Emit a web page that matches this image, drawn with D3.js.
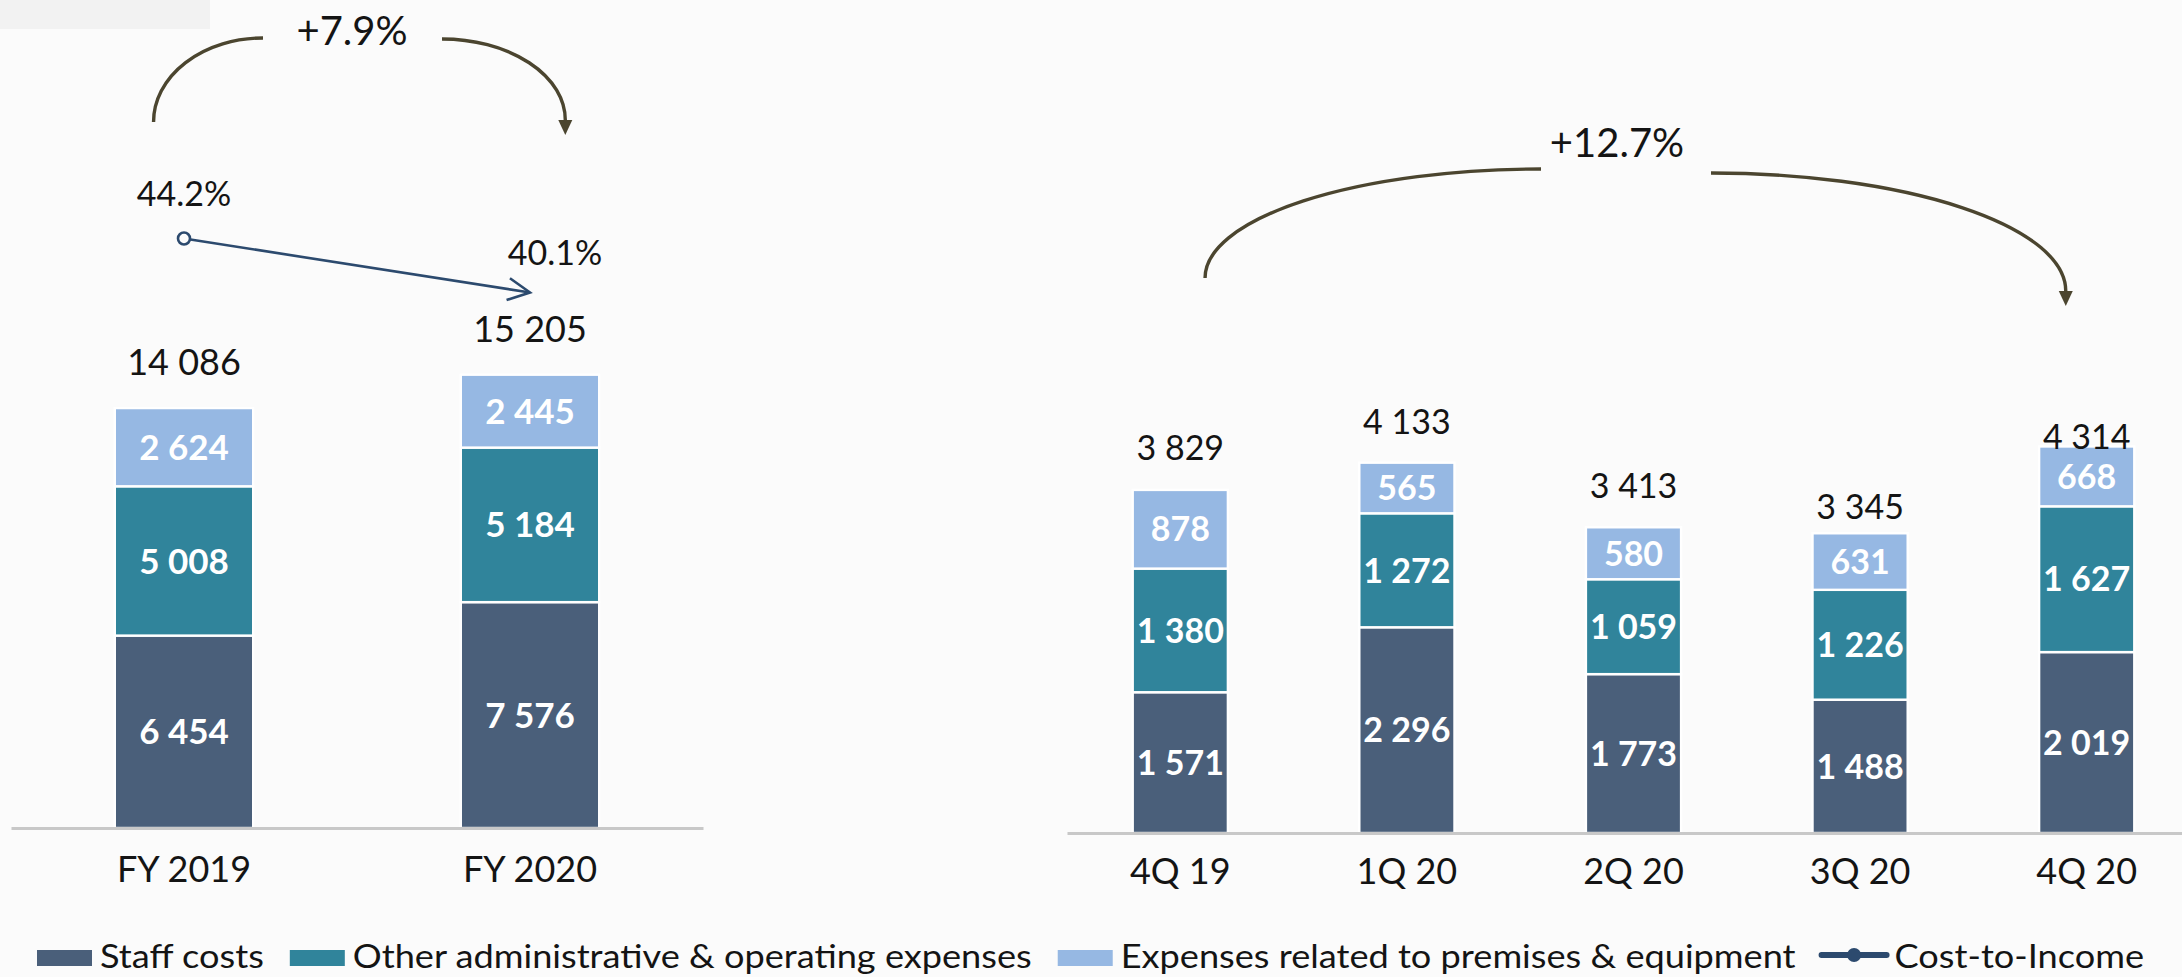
<!DOCTYPE html>
<html>
<head>
<meta charset="utf-8">
<script src="https://cdn.jsdelivr.net/npm/d3@7/dist/d3.min.js"></script>
<style>
  html, body { margin: 0; padding: 0; background: #fbfbfb; }
  svg { display: block; font-family: Lato, "Open Sans", sans-serif; }
</style>
</head>
<body>
<svg id="chart" width="2182" height="977"></svg>
<script>
// ---------------- DATA ----------------
const seriesNames = ["Staff costs", "Other administrative & operating expenses", "Expenses related to premises & equipment"];
const lineName = "Cost-to-Income";

const yearCats = ["FY 2019", "FY 2020"];
const yearStaff = [6454, 7576];
const yearOther = [5008, 5184];
const yearPremises = [2624, 2445];
const yearTotals = [14086, 15205];
const costToIncome = [44.2, 40.1];
const yearGrowth = "+7.9%";

const quarterCats = ["4Q 19", "1Q 20", "2Q 20", "3Q 20", "4Q 20"];
const quarterStaff = [1571, 2296, 1773, 1488, 2019];
const quarterOther = [1380, 1272, 1059, 1226, 1627];
const quarterPremises = [878, 565, 580, 631, 668];
const quarterTotals = [3829, 4133, 3413, 3345, 4314];
const quarterGrowth = "+12.7%";

// ---------------- STYLE ----------------
const colors = ["#4a5f7a", "#30849b", "#96b8e3"];
const lineColor = "#2c4a6e";
const arcColor = "#4b452f";
const axisColor = "#c8c8c8";
const textColor = "#141414";
const keys = ["staff", "other", "premises"];

const locale = d3.formatLocale({ decimal: ".", thousands: " ", grouping: [3], currency: ["", ""] });
const fmt = locale.format(",d");
const pct = v => v.toFixed(1) + "%";

const svg = d3.select("#chart");
svg.append("rect").attr("x", 0).attr("y", 0).attr("width", 2182).attr("height", 977).attr("fill", "#fbfbfb");
svg.append("rect").attr("x", 0).attr("y", 0).attr("width", 210).attr("height", 29).attr("fill", "#f2f2f2");

const defs = svg.append("defs");
defs.append("marker").attr("id", "arcHead").attr("markerUnits", "userSpaceOnUse")
  .attr("viewBox", "0 -8 16 16").attr("refX", 0).attr("refY", 0)
  .attr("markerWidth", 16).attr("markerHeight", 16).attr("orient", "auto")
  .append("path").attr("d", "M0,-7L15,0L0,7Z").attr("fill", arcColor);
defs.append("marker").attr("id", "lineHead").attr("markerUnits", "userSpaceOnUse")
  .attr("viewBox", "-26 -14 30 28").attr("refX", 0).attr("refY", 0)
  .attr("markerWidth", 30).attr("markerHeight", 28).attr("orient", "auto")
  .append("path").attr("d", "M-22,-11L0,0L-22,11").attr("fill", "none")
  .attr("stroke", lineColor).attr("stroke-width", 2.6);

// generic stacked panel
function panel(cfg) {
  const table = cfg.cats.map((c, i) => ({ cat: c, staff: cfg.staff[i], other: cfg.other[i], premises: cfg.premises[i] }));
  const stacked = d3.stack().keys(keys)(table);
  const x = d3.scaleBand().domain(cfg.cats).range(cfg.xRange).paddingInner(cfg.pad).paddingOuter(cfg.pad / 2);
  const y = d3.scaleLinear().domain(cfg.yDomain).range(cfg.yRange);
  const g = svg.append("g");

  g.selectAll("g.layer").data(stacked).join("g").attr("class", "layer")
    .attr("fill", (d, i) => colors[i])
    .selectAll("rect").data(d => d).join("rect")
    .attr("x", d => x(d.data.cat))
    .attr("width", x.bandwidth())
    .attr("y", d => y(d[1]))
    .attr("height", d => y(d[0]) - y(d[1]))
    .attr("stroke", "#ffffff").attr("stroke-width", 2.4);

  // segment labels
  g.selectAll("g.vlayer").data(stacked).join("g").attr("class", "vlayer")
    .selectAll("text").data(d => d).join("text")
    .attr("x", d => x(d.data.cat) + x.bandwidth() / 2)
    .attr("y", d => (y(d[0]) + y(d[1])) / 2)
    .attr("dy", "0.36em")
    .attr("text-anchor", "middle")
    .attr("fill", "#ffffff").attr("font-weight", 700).attr("font-size", cfg.valueFont)
    .text(d => fmt(d[1] - d[0]));

  // totals
  g.selectAll("text.total").data(cfg.cats).join("text").attr("class", "total")
    .attr("x", c => x(c) + x.bandwidth() / 2)
    .attr("y", (c, i) => y(d3.sum(keys, k => table[i][k])) - cfg.totalOffset[i])
    .attr("dy", "0.36em").attr("text-anchor", "middle")
    .attr("fill", textColor).attr("font-size", cfg.totalFont)
    .text((c, i) => fmt(cfg.totals[i]));

  // axis
  const ax = g.append("g").attr("transform", `translate(0,${cfg.yRange[0]})`)
    .call(d3.axisBottom(x).tickSize(0).tickSizeOuter(0).tickPadding(cfg.tickPad));
  ax.select(".domain").attr("stroke", axisColor).attr("stroke-width", 3);
  ax.selectAll(".tick text").attr("font-size", 36).attr("fill", textColor).attr("font-family", "Lato, sans-serif");
  return { x, y, g };
}

// ---------------- LEFT (annual) ----------------
const L = panel({
  cats: yearCats, staff: yearStaff, other: yearOther, premises: yearPremises, totals: yearTotals,
  xRange: [11, 703], pad: 0.6, yDomain: [0, 16000], yRange: [828, 828 - 477],
  valueFont: 35, totalFont: 36, totalOffset: [46, 46], tickPad: 28
});

// Cost-to-income line
const yC = d3.scaleLinear().domain([35, 50]).range([359.7, 162.1]);
const ctiPts = yearCats.map((c, i) => [L.x(c) + L.x.bandwidth() / 2, yC(costToIncome[i])]);
svg.append("path").attr("d", d3.line()(ctiPts)).attr("fill", "none")
  .attr("stroke", lineColor).attr("stroke-width", 2.6).attr("marker-end", "url(#lineHead)");
svg.append("circle").attr("cx", ctiPts[0][0]).attr("cy", ctiPts[0][1]).attr("r", 6)
  .attr("fill", "#fbfbfb").attr("stroke", lineColor).attr("stroke-width", 2.6);
svg.append("text").attr("x", ctiPts[0][0]).attr("y", ctiPts[0][1] - 45).attr("dy", "0.36em")
  .attr("text-anchor", "middle").attr("font-size", 34).attr("fill", textColor).text(pct(costToIncome[0]));
svg.append("text").attr("x", ctiPts[1][0] + 25).attr("y", ctiPts[1][1] - 40).attr("dy", "0.36em")
  .attr("text-anchor", "middle").attr("font-size", 34).attr("fill", textColor).text(pct(costToIncome[1]));

// ---------------- RIGHT (quarterly) ----------------
const R = panel({
  cats: quarterCats, staff: quarterStaff, other: quarterOther, premises: quarterPremises, totals: quarterTotals,
  xRange: [1067, 1067 + 5 * 226.6], pad: 0.58, yDomain: [0, 5000], yRange: [833, 833 - 448],
  valueFont: 34, totalFont: 34, totalOffset: [42, 41, 42, 27, 10], tickPad: 25
});

// ---------------- growth arcs ----------------
function growthArc(a) {
  const g = svg.append("g");
  g.append("path")
    .attr("d", `M${a.x0},${a.y0} A${a.xa - a.x0},${a.y0 - a.topA} 0 0 1 ${a.xa},${a.topA}`)
    .attr("fill", "none").attr("stroke", arcColor).attr("stroke-width", a.sw);
  g.append("path")
    .attr("d", `M${a.xb},${a.topB} A${a.x1 - a.xb},${a.y1 - a.topB} 0 0 1 ${a.x1},${a.y1}`)
    .attr("fill", "none").attr("stroke", arcColor).attr("stroke-width", a.sw).attr("marker-end", "url(#arcHead)");
  g.append("text").attr("x", a.tx).attr("y", a.ty).attr("dy", "0.36em").attr("text-anchor", "middle")
    .attr("font-size", a.fs).attr("fill", textColor).text(a.text);
}
const bwL = L.x.bandwidth(), bwR = R.x.bandwidth();
growthArc({
  x0: L.x(yearCats[0]) + bwL * 0.28, y0: 122, xa: 263, topA: 38,
  xb: 442, topB: 39, x1: L.x(yearCats[1]) + bwL * 0.755, y1: 120,
  tx: 352, ty: 31, fs: 40, sw: 3.4, text: yearGrowth
});
growthArc({
  x0: R.x(quarterCats[0]) + bwR * 0.76, y0: 278, xa: 1541, topA: 169,
  xb: 1711, topB: 173, x1: R.x(quarterCats[4]) + bwR * 0.28, y1: 291,
  tx: 1617, ty: 143, fs: 40, sw: 3.4, text: quarterGrowth
});

// ---------------- legend ----------------
const legend = svg.append("g");
const legY = 956, legStart = 37, legEnd = 2144, sw = 55, gapIn = 8, gapOut = 26, lineW = 65, legFont = 33;
const items = seriesNames.map((n, i) => ({ name: n, type: "rect", color: colors[i] }))
  .concat([{ name: lineName, type: "line", color: lineColor }]);
// measure natural widths
const meas = items.map(it => {
  const t = legend.append("text").attr("font-size", legFont).text(it.name);
  const w = t.node().getComputedTextLength(); t.remove(); return w;
});
const fixed = items.reduce((s, it, i) => s + (it.type === "rect" ? sw : lineW) + gapIn + (i < items.length - 1 ? gapOut : 0), 0);
const sx = (legEnd - legStart - fixed) / d3.sum(meas);
let cx = legStart;
items.forEach((it, i) => {
  if (it.type === "rect") {
    legend.append("rect").attr("x", cx).attr("y", legY - 6).attr("width", sw).attr("height", 16).attr("fill", it.color);
    cx += sw;
  } else {
    legend.append("line").attr("x1", cx).attr("x2", cx + lineW).attr("y1", legY - 1).attr("y2", legY - 1)
      .attr("stroke", it.color).attr("stroke-width", 6).attr("stroke-linecap", "round");
    legend.append("circle").attr("cx", cx + lineW / 2).attr("cy", legY - 1).attr("r", 7).attr("fill", it.color);
    cx += lineW;
  }
  cx += gapIn;
  legend.append("text").attr("transform", `translate(${cx},${legY}) scale(${sx},1)`)
    .attr("dy", "0.36em").attr("font-size", legFont).attr("fill", textColor).text(it.name);
  cx += meas[i] * sx + gapOut;
});
</script>
</body>
</html>
